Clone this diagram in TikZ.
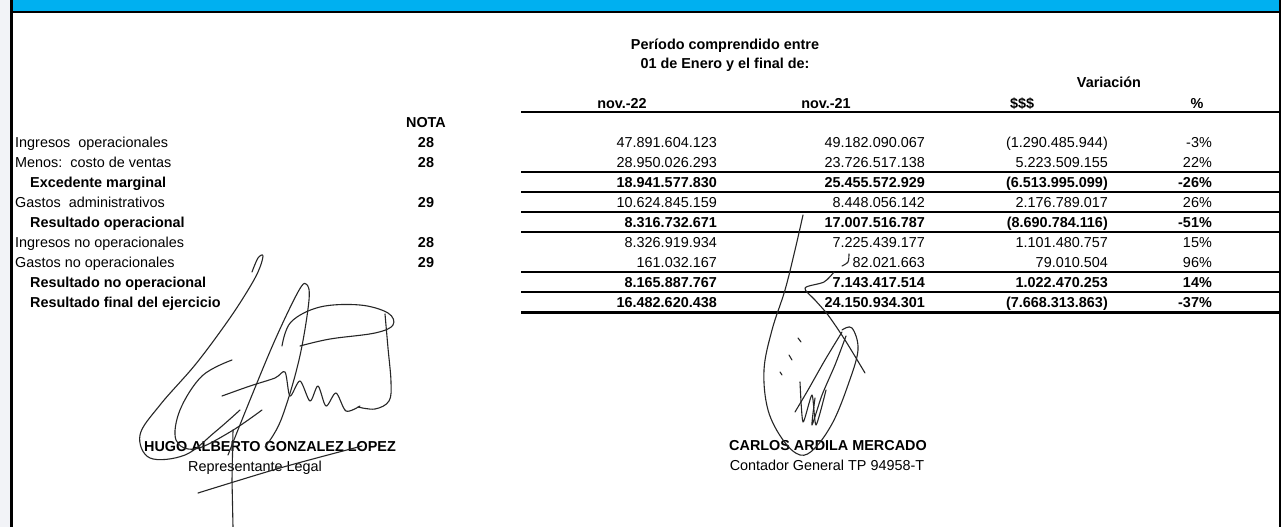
\documentclass[tikz,border=0pt]{standalone}
\usepackage{fontspec}
\setmainfont{Liberation Sans}
\definecolor{barblue}{RGB}{0,176,240}
\definecolor{pagegray}{RGB}{242,243,247}
\newcommand{\sheetfont}{\fontsize{14.4}{17}\selectfont}
\begin{document}
\begin{tikzpicture}[x=1pt,y=-1pt]
\tikzstyle{lbl} = [anchor=base west, inner sep=0pt, font=\sheetfont]
\tikzstyle{sublbl} = [anchor=base west, inner sep=0pt, font=\sheetfont\bfseries]
\tikzstyle{head} = [anchor=base, inner sep=0pt, font=\sheetfont\bfseries]
\tikzstyle{txt} = [anchor=base, inner sep=0pt, font=\sheetfont]
\tikzstyle{num} = [anchor=base east, inner sep=0pt, font=\sheetfont]
\tikzstyle{bnum} = [anchor=base east, inner sep=0pt, font=\sheetfont\bfseries]
\tikzstyle{rule} = [line width=1.3pt]
\tikzstyle{thickrule} = [line width=2.3pt]
\tikzstyle{ink} = [draw=black!85, line width=1.1pt, line cap=round, line join=round]
\useasboundingbox (0,0) rectangle (1282,527);
\fill[white] (0,0) rectangle (1282,527);
\fill[pagegray] (0,0) rectangle (10,527);
\fill[barblue] (11,0) rectangle (1280,11.5);
\draw[line width=2.5pt] (11,12.2) -- (1280,12.2);
\draw[line width=3pt] (11.5,0) -- (11.5,527);
\draw[line width=2pt] (1280,0) -- (1280,527);

% encabezado
\node (per) [head] at (725,49) {Período comprendido entre};
\node (ene) [head] at (725,68) {01 de Enero y el final de:};
\node (var) [head] at (1109,87) {Variación};
\node (h22) [head] at (622,108) {nov.-22};
\node (h21) [head] at (826,108) {nov.-21};
\node (hdol) [head] at (1022,108) {\$\$\$};
\node (hpct) [head] at (1197,108) {\%};
\node (nota) [head] at (426,127) {NOTA};
\draw[line width=2pt] (521,112) -- (1280,112);

\node (l1) [lbl] at (15,147) {Ingresos\ \ operacionales};
\node (n1) [head] at (426,147) {28};
\node (a1) [num] at (717,147) {47.891.604.123};
\node (b1) [num] at (925,147) {49.182.090.067};
\node (c1) [num] at (1108,147) {(1.290.485.944)};
\node (p1) [num] at (1212,147) {-3\%};

\node (l2) [lbl] at (15,167) {Menos:\ \ costo de ventas};
\node (n2) [head] at (426,167) {28};
\node (a2) [num] at (717,167) {28.950.026.293};
\node (b2) [num] at (925,167) {23.726.517.138};
\node (c2) [num] at (1108,167) {5.223.509.155};
\node (p2) [num] at (1212,167) {22\%};
\draw[rule] (521,172) -- (1280,172);

\node (l3) [sublbl] at (30,187) {Excedente marginal};
\node (a3) [bnum] at (717,187) {18.941.577.830};
\node (b3) [bnum] at (925,187) {25.455.572.929};
\node (c3) [bnum] at (1108,187) {(6.513.995.099)};
\node (p3) [bnum] at (1212,187) {-26\%};
\draw[thickrule] (521,192) -- (1280,192);

\node (l4) [lbl] at (15,207) {Gastos\ \ administrativos};
\node (n4) [head] at (426,207) {29};
\node (a4) [num] at (717,207) {10.624.845.159};
\node (b4) [num] at (925,207) {8.448.056.142};
\node (c4) [num] at (1108,207) {2.176.789.017};
\node (p4) [num] at (1212,207) {26\%};
\draw[rule] (521,212) -- (1280,212);

\node (l5) [sublbl] at (30,227) {Resultado operacional};
\node (a5) [bnum] at (717,227) {8.316.732.671};
\node (b5) [bnum] at (925,227) {17.007.516.787};
\node (c5) [bnum] at (1108,227) {(8.690.784.116)};
\node (p5) [bnum] at (1212,227) {-51\%};
\draw[thickrule] (521,232) -- (1280,232);

\node (l6) [lbl] at (15,247) {Ingresos no operacionales};
\node (n6) [head] at (426,247) {28};
\node (a6) [num] at (717,247) {8.326.919.934};
\node (b6) [num] at (925,247) {7.225.439.177};
\node (c6) [num] at (1108,247) {1.101.480.757};
\node (p6) [num] at (1212,247) {15\%};

\node (l7) [lbl] at (15,267) {Gastos no operacionales};
\node (n7) [head] at (426,267) {29};
\node (a7) [num] at (717,267) {161.032.167};
\node (b7) [num] at (925,267) {82.021.663};
\node (c7) [num] at (1108,267) {79.010.504};
\node (p7) [num] at (1212,267) {96\%};
\draw[rule] (521,272) -- (1280,272);

\node (l8) [sublbl] at (30,287) {Resultado no operacional};
\node (a8) [bnum] at (717,287) {8.165.887.767};
\node (b8) [bnum] at (925,287) {7.143.417.514};
\node (c8) [bnum] at (1108,287) {1.022.470.253};
\node (p8) [bnum] at (1212,287) {14\%};
\draw[thickrule] (521,292) -- (1280,292);

\node (l9) [sublbl] at (30,307) {Resultado final del ejercicio};
\node (a9) [bnum] at (717,307) {16.482.620.438};
\node (b9) [bnum] at (925,307) {24.150.934.301};
\node (c9) [bnum] at (1108,307) {(7.668.313.863)};
\node (p9) [bnum] at (1212,307) {-37\%};
\draw[line width=3pt] (521,312) -- (1280,312);

% firmas
\node (rep) [head] at (270,451) {HUGO ALBERTO GONZALEZ LOPEZ};
\node (repcargo) [txt] at (255,471) {Representante Legal};
\node (cont) [head] at (828,450) {CARLOS ARDILA MERCADO};
\node (contcargo) [txt] at (827,470) {Contador General TP 94958-T};

\draw[ink] plot[smooth, tension=0.6] coordinates {(252,272) (258,258) (263,256) (258,272) (245,295) (225,325) (195,365) (160,405) (140,435) (150,458) (185,455) (215,432) (240,410)};
\draw[ink] plot[smooth, tension=0.6] coordinates {(232,360) (202,376) (180,410) (176,440) (195,449) (230,432) (262,410)};
\draw[ink] plot[smooth, tension=0.6] coordinates {(228,455) (250,400) (275,340) (298,292) (306,284) (309,300) (299,360) (281,420) (265,447)};
\draw[ink] plot[smooth, tension=0.6] coordinates {(282,346) (291,322) (320,307) (360,305) (388,313) (393,325) (375,333) (330,339) (300,346)};
\draw[ink] plot[smooth, tension=0.6] coordinates {(385,314) (388,348) (391,382) (389,401) (375,409) (358,407)};
\draw[ink] plot[smooth, tension=0.5] coordinates {(222,396) (250,386) (275,378) (285,372) (290,396) (300,381) (310,401) (318,386) (326,406) (336,393) (346,411) (360,406)};
\draw[ink] (233,430) -- (232,480) -- (233,527);
\draw[ink] plot[smooth] coordinates {(198,493) (280,468) (362,446)};

\draw[ink] plot[smooth, tension=0.6] coordinates {(803,215) (795,250) (785,290) (772,330) (764,370) (768,410) (783,440) (800,455) (815,448) (833,422) (848,385) (858,350) (852,328) (842,330)};
\draw[ink] plot[smooth] coordinates {(849,254) (848,262) (842,266)};
\draw[ink] plot[smooth, tension=0.5] coordinates {(834,272) (824,282) (805,288) (815,300) (828,315) (845,340) (865,373)};
\draw[ink] plot[smooth] coordinates {(842,332) (825,360) (808,390) (795,412)};
\draw[ink] plot[smooth, tension=0.4] coordinates {(846,336) (835,365) (822,395) (812,425) (815,398)};
\draw[ink] plot[smooth, tension=0.4] coordinates {(800,382) (803,422) (812,395) (816,425) (826,390)};
\draw[ink] (798,338) -- (801,342);
\draw[ink] (789,355) -- (792,360);
\draw[ink] (780,372) -- (782,375);
\end{tikzpicture}
\end{document}
